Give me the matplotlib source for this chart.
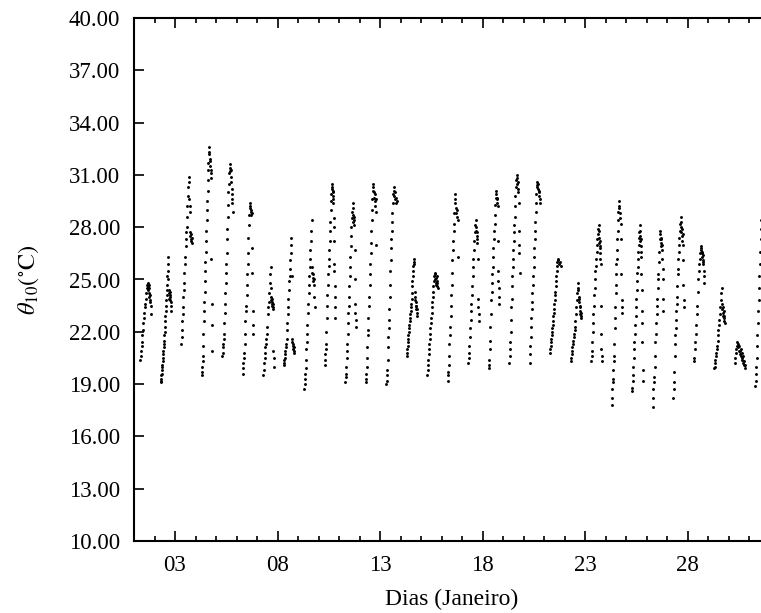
import numpy as np
import matplotlib
matplotlib.use("Agg")
import matplotlib.pyplot as plt
from matplotlib.ticker import MultipleLocator, FixedLocator

plt.rcParams['font.family'] = ['Liberation Serif', 'DejaVu Serif']
plt.rcParams['mathtext.fontset'] = 'stix'

# --- Temperature at 10 cm (°C), daytime readings per day ---
# "s" = morning rise (in time order), "d" = afternoon plateau / decline
d01_s = [20.4, 20.6, 20.9, 21.2, 21.4, 21.8, 22.1, 22.5, 22.8, 23.1, 23.4, 23.6, 23.9, 24.2, 24.5, 24.7, 24.8]
d01_d = [24.6, 24.4, 24.7, 24.5, 24.2, 24.0, 23.7, 24.1, 23.8, 23.5, 23.0]
d02_s = [19.1, 19.2, 19.3, 19.5, 19.6, 19.8, 20.0, 20.1, 20.3, 20.5, 20.7, 20.9, 21.1, 21.3, 21.5, 21.8, 22.0, 22.3, 22.6, 22.9, 23.2, 23.5, 23.8, 24.1, 24.4, 24.7, 25.2, 25.5, 25.9, 26.3]
d02_d = [25.0, 24.4, 24.2, 23.9, 24.1, 23.8, 24.3, 24.0, 23.7, 23.5, 23.2]
d03_s = [21.3, 21.7, 22.1, 22.6, 23.0, 23.4, 24.0, 24.4, 24.8, 25.4, 25.9, 26.3, 26.9, 27.3, 27.7, 28.0, 28.6, 29.2, 29.8, 30.3, 30.9]
d03_d = [30.6, 29.6, 29.2, 28.9, 27.7, 27.5, 27.3, 27.6, 27.2, 27.4, 27.1]
d04_s = [19.5, 19.7, 20.0, 20.3, 20.6, 21.2, 21.9, 22.6, 23.2, 23.7, 24.3, 24.9, 25.5, 26.0, 26.6, 27.2, 27.8, 28.4, 29.0, 29.5, 30.1, 30.7, 31.3, 31.7, 32.2, 32.6]
d04_d = [32.3, 31.9, 31.5, 31.8, 31.3, 31.1, 30.8, 26.2, 23.6, 22.4, 20.9]
d05_s = [20.6, 20.8, 21.1, 21.3, 21.6, 21.9, 22.5, 23.1, 23.6, 24.2, 24.8, 25.4, 25.9, 26.5, 27.3, 27.9, 28.6, 29.3, 30.0, 30.5, 31.1, 31.6]
d05_d = [31.4, 31.2, 30.9, 31.3, 30.6, 30.2, 29.9, 29.6, 29.4, 28.9]
d06_s = [19.6, 19.9, 20.2, 20.5, 20.8, 21.3, 21.9, 22.6, 23.2, 23.5, 24.1, 24.7, 25.3, 25.9, 26.5, 27.4, 28.1, 28.7, 29.1, 29.4]
d06_d = [29.2, 28.9, 29.0, 28.7, 28.8, 26.8, 25.4, 23.2, 22.4, 21.9]
d07_s = [19.5, 19.8, 20.2, 20.5, 20.8, 21.1, 21.3, 21.6, 21.9, 22.3, 23.0, 23.4, 23.7, 24.2, 24.8, 25.3, 25.7]
d07_d = [24.5, 24.0, 23.8, 23.6, 23.9, 23.5, 23.7, 23.3, 23.6, 23.4, 20.9, 20.5, 20.0]
d08_s = [20.1, 20.2, 20.4, 20.5, 20.7, 20.9, 21.1, 21.3, 21.6, 22.1, 22.5, 23.0, 23.4, 23.9, 24.4, 24.9, 25.2, 25.6, 26.1, 27.0, 27.4]
d08_d = [26.5, 25.2, 21.6, 21.4, 21.2, 21.0, 21.3, 20.9, 21.1, 20.8]
d09_s = [18.7, 19.0, 19.3, 19.6, 19.9, 20.4, 21.0, 21.4, 21.9, 22.4, 23.1, 23.6, 24.2, 24.7, 25.2, 25.7, 26.2, 26.7, 27.2, 27.8, 28.4]
d09_d = [25.7, 25.4, 25.1, 24.9, 25.3, 24.7, 25.0, 24.0, 23.4]
d10_s = [20.1, 20.4, 20.7, 21.0, 21.3, 22.0, 22.8, 23.5, 24.1, 24.7, 25.3, 25.8, 26.2, 26.7, 27.2, 27.8, 28.3, 29.0, 29.5, 29.9, 30.3, 30.5]
d10_d = [30.2, 30.0, 29.8, 30.1, 29.6, 29.4, 28.5, 28.0, 27.2, 25.9, 25.5, 24.6, 24.0, 23.4, 22.8]
d11_s = [19.1, 19.4, 19.6, 20.0, 20.5, 20.9, 21.3, 21.9, 22.5, 23.1, 23.5, 24.0, 24.6, 25.2, 25.7, 26.3, 26.9, 27.5, 28.0, 28.5, 28.9, 29.4]
d11_d = [29.1, 28.7, 28.3, 28.6, 28.1, 28.4, 26.7, 25.0, 23.6, 23.1, 22.7, 22.3]
d12_s = [19.1, 19.3, 19.6, 20.0, 20.5, 21.1, 21.8, 22.1, 22.8, 23.5, 24.0, 24.7, 25.3, 25.9, 26.5, 27.1, 27.8, 28.4, 29.0, 29.6, 30.1, 30.5]
d12_d = [30.3, 30.0, 29.7, 29.9, 29.5, 29.2, 29.6, 28.9, 27.0]
d13_s = [19.0, 19.2, 19.5, 19.8, 20.4, 21.1, 21.7, 22.2, 22.7, 23.3, 24.0, 24.7, 25.5, 26.1, 26.8, 27.3, 27.8, 28.3, 28.8, 29.4, 29.9, 30.3]
d13_d = [30.1, 29.8, 30.0, 29.6, 29.4, 29.7, 29.5]
d14_s = [20.6, 20.8, 21.0, 21.2, 21.4, 21.6, 21.8, 22.0, 22.2, 22.4, 22.6, 22.8, 23.0, 23.2, 23.4, 23.6, 23.9, 24.2, 24.6, 24.9, 25.2, 25.5, 25.8, 26.0, 26.2]
d14_d = [25.9, 24.3, 24.0, 23.8, 23.5, 23.7, 23.3, 23.5, 23.1, 23.3, 22.9]
d15_s = [19.5, 19.8, 20.1, 20.4, 20.7, 21.0, 21.3, 21.6, 21.9, 22.2, 22.5, 22.8, 23.1, 23.4, 23.7, 24.0, 24.3, 24.6, 24.9, 25.2, 25.4]
d15_d = [25.3, 25.0, 24.8, 25.1, 24.7, 25.2, 24.9, 24.6, 24.8, 24.5]
d16_s = [19.2, 19.5, 19.7, 20.1, 20.6, 21.3, 21.8, 22.3, 22.9, 23.5, 24.1, 24.7, 25.4, 26.1, 26.7, 27.2, 27.8, 28.2, 28.8, 29.4, 29.9]
d16_d = [29.6, 29.1, 28.8, 29.0, 28.6, 28.4, 26.3]
d17_s = [20.2, 20.5, 20.8, 21.2, 21.7, 22.2, 22.7, 23.2, 23.6, 24.1, 24.6, 25.2, 25.7, 26.2, 26.7, 27.2, 27.7, 28.1, 28.4]
d17_d = [28.0, 27.8, 27.5, 27.7, 27.3, 27.1, 26.2, 23.9, 23.4, 23.0, 22.6]
d18_s = [19.9, 20.1, 20.4, 21.0, 21.5, 22.3, 23.0, 23.8, 24.3, 24.8, 25.3, 25.7, 26.3, 26.8, 27.3, 27.8, 28.2, 28.7, 29.3, 29.7, 30.1]
d18_d = [29.9, 29.6, 29.4, 29.7, 29.2, 27.2, 25.5, 24.9, 24.5, 24.0, 23.6]
d19_s = [20.2, 20.6, 21.0, 21.4, 22.0, 22.7, 23.4, 23.9, 24.6, 25.2, 25.7, 26.2, 26.7, 27.2, 27.7, 28.1, 28.6, 29.2, 29.8, 30.3, 30.7, 31.0]
d19_d = [30.8, 30.5, 30.2, 30.6, 30.0, 29.4, 27.8, 27.0, 26.5, 25.4]
d20_s = [20.2, 20.7, 21.2, 21.7, 22.3, 22.8, 23.3, 23.7, 24.2, 24.7, 25.2, 25.7, 26.3, 26.8, 27.3, 27.8, 28.3, 28.9, 29.4, 29.9, 30.3, 30.6]
d20_d = [30.4, 30.2, 30.5, 30.0, 29.8, 30.1, 29.6, 29.4]
d21_s = [20.8, 21.0, 21.2, 21.4, 21.6, 21.8, 22.0, 22.2, 22.4, 22.6, 22.9, 23.1, 23.3, 23.6, 23.8, 24.1, 24.3, 24.6, 24.9, 25.2, 25.5, 25.8, 26.0, 26.2]
d21_d = [26.1, 25.9, 26.0, 25.8]
d22_s = [20.3, 20.5, 20.7, 20.9, 21.1, 21.3, 21.5, 21.7, 21.9, 22.1, 22.3, 22.6, 23.0, 23.4, 23.8, 24.2, 24.5, 24.8]
d22_d = [24.4, 24.0, 23.7, 23.9, 23.5, 23.2, 23.4, 23.0, 22.8, 23.1, 22.9]
d23_s = [20.3, 20.6, 20.9, 21.4, 22.0, 22.5, 23.0, 23.5, 24.1, 24.5, 25.0, 25.5, 25.8, 26.2, 26.6, 27.0, 27.3, 27.6, 27.9, 28.1]
d23_d = [27.8, 27.4, 27.1, 26.8, 27.2, 26.5, 26.9, 26.2, 25.9, 23.5, 21.9, 21.0, 20.6, 20.3]
d24_s = [17.8, 18.2, 18.7, 19.1, 19.3, 19.8, 20.3, 20.6, 21.3, 22.2, 22.8, 23.4, 24.2, 24.7, 25.3, 25.9, 26.2, 26.7, 27.3, 27.8, 28.4, 28.9, 29.2, 29.5]
d24_d = [29.1, 28.8, 28.5, 28.2, 27.3, 25.3, 23.8, 23.4, 23.1]
d25_s = [18.6, 18.8, 19.2, 19.5, 20.0, 20.5, 21.0, 21.4, 21.9, 22.4, 22.9, 23.4, 23.9, 24.4, 24.9, 25.4, 25.7, 26.2, 26.6, 27.0, 27.4, 27.7, 28.1]
d25_d = [27.8, 27.5, 27.2, 26.9, 27.3, 26.6, 26.3, 25.3, 24.4, 23.2, 22.5, 21.4, 19.8, 19.2]
d26_s = [17.7, 18.2, 18.7, 19.1, 19.4, 20.0, 20.6, 21.4, 21.9, 22.5, 23.0, 23.5, 23.9, 24.5, 25.0, 25.3, 26.0, 26.6, 27.3, 27.8]
d26_d = [27.6, 27.4, 27.1, 27.3, 26.9, 27.0, 26.7, 26.2, 25.6, 25.0, 23.9, 23.2]
d27_s = [18.2, 18.7, 19.1, 19.7, 20.6, 21.3, 21.8, 22.2, 22.7, 23.2, 23.6, 24.0, 24.6, 25.3, 25.6, 26.2, 26.6, 27.0, 27.4, 27.8, 28.2, 28.6]
d27_d = [28.3, 28.0, 27.7, 27.9, 27.5, 27.2, 27.6, 27.0, 26.1, 24.7, 23.8, 23.4]
d28_s = [20.3, 20.5, 21.0, 21.4, 21.9, 22.4, 23.0, 23.5, 24.3, 25.0, 25.5, 25.9, 26.2, 26.5, 26.7, 26.9]
d28_d = [26.8, 26.6, 26.3, 26.5, 26.1, 26.4, 26.0, 25.9, 25.5, 25.2, 24.8]
d29_s = [19.9, 20.0, 20.2, 20.4, 20.6, 20.8, 21.0, 21.2, 21.5, 21.8, 22.1, 22.4, 22.7, 23.0, 23.4, 23.8, 24.2, 24.5]
d29_d = [23.6, 23.3, 23.1, 23.4, 22.9, 23.2, 22.8, 22.6, 22.9, 22.5]
d30_s = [20.2, 20.5, 20.8, 21.0, 21.2, 21.4, 21.3, 21.1, 20.9, 21.2, 20.9, 20.7, 21.0, 20.6, 20.8, 20.5]
d30_d = [20.4, 20.2, 20.6, 20.1, 20.3, 19.9, 20.1]
d31_s = [18.9, 19.2, 19.6, 20.0, 20.5, 21.2, 21.8, 22.5, 23.2, 23.8, 24.5, 25.2, 25.9, 26.6, 27.3, 27.9, 28.4, 28.9, 29.3, 29.7]
d31_d = []

subida = [d01_s, d02_s, d03_s, d04_s, d05_s, d06_s, d07_s, d08_s, d09_s, d10_s,
          d11_s, d12_s, d13_s, d14_s, d15_s, d16_s, d17_s, d18_s, d19_s, d20_s,
          d21_s, d22_s, d23_s, d24_s, d25_s, d26_s, d27_s, d28_s, d29_s, d30_s, d31_s]
descida = [d01_d, d02_d, d03_d, d04_d, d05_d, d06_d, d07_d, d08_d, d09_d, d10_d,
           d11_d, d12_d, d13_d, d14_d, d15_d, d16_d, d17_d, d18_d, d19_d, d20_d,
           d21_d, d22_d, d23_d, d24_d, d25_d, d26_d, d27_d, d28_d, d29_d, d30_d, d31_d]
dias = list(range(1, 32))

# sampling windows (fraction of day)
janela_subida = (0.30, 0.66)
janela_descida = (0.68, 0.82)

xticks = [3, 8, 13, 18, 23, 28]
xtick_labels = ['03', '08', '13', '18', '23', '28']
yticks = [10, 13, 16, 19, 22, 25, 28, 31, 34, 37, 40]

xs, ys = [], []
for d, s, q in zip(dias, subida, descida):
    if len(s):
        xs.extend(d + np.linspace(janela_subida[0], janela_subida[1], len(s)))
        ys.extend(s)
    if len(q):
        xs.extend(d + np.linspace(janela_descida[0], janela_descida[1], len(q)))
        ys.extend(q)

W, H = 761, 613
fig = plt.figure(figsize=(W / 100, H / 100), dpi=100)
ax = fig.add_axes([134 / W, 72 / H, 635.5 / W, 523 / H])
ax.plot(xs, ys, 'o', ms=2.1, color='black', mec='none', clip_on=True)

ax.set_xlim(1, 32)
ax.set_ylim(10, 40)
ax.xaxis.set_major_locator(FixedLocator(xticks))
ax.set_xticklabels(xtick_labels)
ax.xaxis.set_minor_locator(MultipleLocator(1))
ax.yaxis.set_major_locator(FixedLocator(yticks))
ax.set_yticklabels([f'{v:.2f}' for v in yticks])

ax.tick_params(which='both', direction='in', top=True, right=False, labelsize=16.5, width=1.2)
ax.tick_params(which='major', length=7)
ax.tick_params(which='minor', length=3.5)
ax.tick_params(axis='y', pad=10)
ax.tick_params(axis='x', pad=10)
for name, sp in ax.spines.items():
    sp.set_linewidth(1.5)
ax.spines['right'].set_visible(False)

ax.set_xlabel('Dias (Janeiro)', fontsize=17, labelpad=9)
ax.set_ylabel(r'$\theta_{10}(^{\circ}\mathrm{C})$', fontsize=17.5, labelpad=20)

fig.savefig('out.png', dpi=100)
